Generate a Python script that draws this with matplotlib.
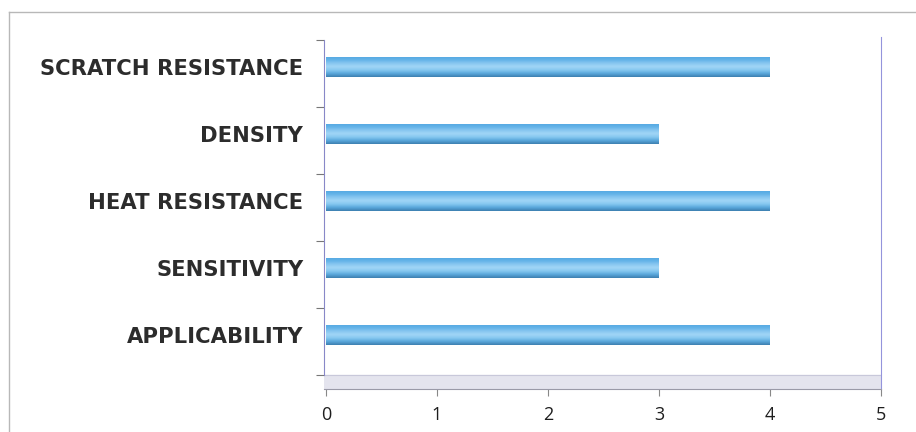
import numpy as np
import matplotlib
matplotlib.use('Agg')
import matplotlib.pyplot as plt
from matplotlib.colors import LinearSegmentedColormap

categories = ['APPLICABILITY', 'SENSITIVITY', 'HEAT RESISTANCE', 'DENSITY', 'SCRATCH RESISTANCE']
values = [4, 3, 4, 3, 4]
x_ticks = [0, 1, 2, 3, 4, 5]

fig = plt.figure(figsize=(9.16, 4.32), dpi=100)
fig.patch.set_facecolor('white')

# outer chart frame (only left and top edges show in the picture)
fig.add_artist(plt.Line2D([9 / 916, 9 / 916], [0, 1 - 12 / 432], transform=fig.transFigure,
                          color='#b8b8b8', lw=1))
fig.add_artist(plt.Line2D([9 / 916, 1], [1 - 12 / 432, 1 - 12 / 432], transform=fig.transFigure,
                          color='#b8b8b8', lw=1))

ax = fig.add_axes([324 / 916, 43 / 432, 557 / 916, 349 / 432])

y = np.arange(len(categories))
wall_bottom = -0.60
wall_top = len(categories) - 0.60
floor_bottom = -0.81

# floor of the 3d chart
ax.axhspan(floor_bottom, wall_bottom, color='#e4e4ee', zorder=1)
ax.axhline(wall_bottom, color='#c8c8da', lw=0.8, zorder=1)

bars = ax.barh(y, values, height=0.30, color='#66b6ea', edgecolor='none', zorder=2)

# cylinder-like shading inside each bar
grad = LinearSegmentedColormap.from_list(
    'cyl', ['#3d7fb0', '#5aa8dc', '#86c8f0', '#a2d6f6', '#86c6f0', '#62b2e8', '#55a8e0'])
shade = np.linspace(0, 1, 64).reshape(-1, 1)
for b in bars:
    x0, y0, w, h = b.get_x(), b.get_y(), b.get_width(), b.get_height()
    im = ax.imshow(shade, cmap=grad, aspect='auto', extent=(x0, x0 + w, y0, y0 + h),
                   origin='lower', zorder=3, interpolation='bicubic')
    im.set_clip_path(b)
ax.set_xlim(-2 / 111, 5)
ax.set_ylim(floor_bottom, wall_top)

ax.spines['top'].set_visible(False)
ax.spines['left'].set_color('#8888c8')
ax.spines['right'].set_color('#9494dc')
ax.spines['bottom'].set_color('#9a9aa8')
ax.spines['left'].set_bounds(wall_bottom, wall_top)
ax.spines['right'].set_bounds(floor_bottom, wall_top + 0.04)

ax.set_yticks(y)
ax.set_yticklabels(categories, fontsize=15.2, fontweight='bold', color='#2c2c2c', family='DejaVu Sans')
ax.tick_params(axis='y', which='major', length=0, pad=15)
ax.set_yticks(np.arange(len(categories) + 1) - 0.60, minor=True)
ax.tick_params(axis='y', which='minor', length=6, color='#777777', width=0.8)

ax.set_xticks(x_ticks)
ax.set_xticklabels([str(t) for t in x_ticks], fontsize=13, color='#1e1e1e', family='Open Sans')
ax.tick_params(axis='x', length=5, color='#888888', width=0.8, pad=7)

fig.savefig('out.png', dpi=100)
